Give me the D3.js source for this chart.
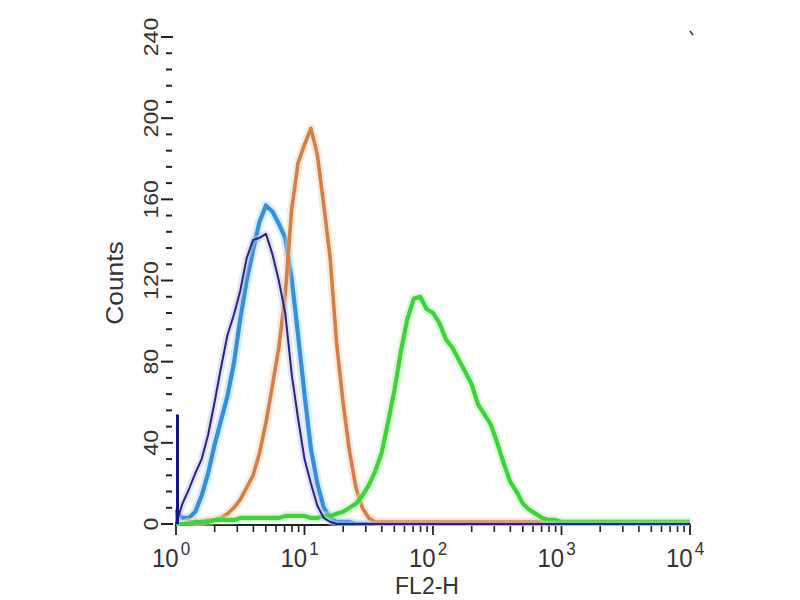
<!DOCTYPE html>
<html>
<head>
<meta charset="utf-8">
<script src="https://cdn.jsdelivr.net/npm/d3@7/dist/d3.min.js"></script>
<style>
  body { margin: 0; background: #fff; }
  text { font-family: "Liberation Sans", Arial, sans-serif; fill: #333; }
</style>
</head>
<body>
<script>
// log10(FL2-H) step between histogram bins, first bin at 10^0
const binStep = 0.05;

const yTicks = [0, 40, 80, 120, 160, 200, 240];
const xDecades = [0, 1, 2, 3, 4];

// counts per bin (81 bins from 10^0 to 10^4)
const navyCounts = [54, 10, 17, 25, 32, 44, 60, 77, 93, 103, 115, 131, 140, 141, 143, 133, 120, 104, 74, 52,
  32, 20, 9, 3, 1, 0, 0, 0, 0, 0, 0, 0, 0, 0, 0, 0, 0, 0, 0, 0,
  0, 0, 0, 0, 0, 0, 0, 0, 0, 0, 0, 0, 0, 0, 0, 0, 0, 0, 0, 0,
  0, 0, 0, 0, 0, 0, 0, 0, 0, 0, 0, 0, 0, 0, 0, 0, 0, 0, 0, 0, 0];
const blueCounts = [6, 3, 3, 6, 14, 25, 39, 51, 63, 79, 101, 120, 135, 149, 157, 154, 148, 141, 121, 93,
  64, 37, 20, 8, 3, 1, 1, 1, 0, 0, 0, 0, 0, 0, 0, 0, 0, 0, 0, 0,
  0, 0, 0, 0, 0, 0, 0, 0, 0, 0, 0, 0, 0, 0, 0, 0, 0, 0, 0, 0,
  0, 0, 0, 0, 0, 0, 0, 0, 0, 0, 0, 0, 0, 0, 0, 0, 0, 0, 0, 0, 0];
const orangeCounts = [0, 0, 1, 1, 1, 2, 2, 3, 5, 8, 12, 18, 24, 35, 50, 68, 87, 113, 155, 178,
  187, 195, 182, 157, 131, 89, 60, 36, 18, 8, 3, 1, 1, 1, 1, 1, 1, 1, 1, 1,
  1, 1, 1, 1, 1, 1, 1, 1, 1, 1, 1, 1, 1, 1, 1, 1, 1, 1, 0, 0,
  0, 0, 0, 0, 0, 0, 0, 0, 0, 0, 0, 0, 0, 0, 0, 0, 0, 0, 0, 0, 0];
const greenCounts = [0, 0, 0, 1, 1, 1, 2, 2, 2, 2, 3, 3, 3, 3, 3, 3, 3, 4, 4, 4,
  4, 3, 3, 4, 4, 5, 6, 8, 10, 14, 19, 26, 35, 50, 66, 85, 101, 111, 112, 106,
  104, 99, 91, 87, 81, 75, 69, 59, 54, 49, 40, 30, 21, 16, 10, 7, 5, 3, 2, 2,
  1, 1, 1, 1, 1, 1, 1, 1, 1, 1, 1, 1, 1, 1, 1, 1, 1, 1, 1, 1, 1];

const series = [
  { name: 'blue', counts: blueCounts, color: '#3a8ed6', glow: '#9fd6f5', width: 4.2 },
  { name: 'orange', counts: orangeCounts, color: '#d2804a', glow: '#f6cfae', width: 3.6 },
  { name: 'green', counts: greenCounts, color: '#3fd23f', glow: '#b3f2a8', width: 4.2 },
  { name: 'navy', counts: navyCounts, color: '#262680', glow: '#c0c0e6', width: 2, spike: true }
];

const svg = d3.select('body').append('svg')
  .attr('width', 800)
  .attr('height', 600);

const x = d3.scaleLog().domain([1, 10000]).range([176, 690]);
const y = d3.scaleLinear().domain([0, 240]).range([524, 37]);

svg.append('clipPath').attr('id', 'plot')
  .append('rect')
  .attr('x', 175).attr('y', 0)
  .attr('width', 520).attr('height', 526);

// x axis
const xMinor = [];
xDecades.slice(0, -1).forEach(d => {
  for (let k = 2; k < 10; k++) xMinor.push(k * Math.pow(10, d));
});
const xAxisG = svg.append('g');
xAxisG.append('line')
  .attr('x1', 175).attr('x2', 691)
  .attr('y1', 525).attr('y2', 525)
  .attr('stroke', '#222').attr('stroke-width', 2);
xAxisG.selectAll('.minor').data(xMinor).join('line')
  .attr('x1', d => x(d)).attr('x2', d => x(d))
  .attr('y1', 525).attr('y2', 532)
  .attr('stroke', '#222').attr('stroke-width', 1.6);
xAxisG.selectAll('.major').data(xDecades).join('line')
  .attr('x1', d => x(Math.pow(10, d))).attr('x2', d => x(Math.pow(10, d)))
  .attr('y1', 525).attr('y2', 535)
  .attr('stroke', '#222').attr('stroke-width', 1.8);
const xl = xAxisG.selectAll('.lab').data(xDecades).join('text')
  .attr('transform', d => `translate(${x(Math.pow(10, d)) - 24},567) scale(1,1.1)`)
  .style('font-size', '24px');
xl.append('tspan').text('10');
xl.append('tspan').attr('dx', 2).attr('dy', -11).style('font-size', '17px').text(d => d);

svg.append('text')
  .attr('x', 427).attr('y', 594)
  .attr('text-anchor', 'middle')
  .style('font-size', '23px')
  .text('FL2-H');

// y axis (ticks only)
const yMinor = d3.range(0, 241, 8).filter(v => v % 40 !== 0);
svg.selectAll('.yminor').data(yMinor).join('line')
  .attr('x1', 166).attr('x2', 172)
  .attr('y1', d => y(d)).attr('y2', d => y(d))
  .attr('stroke', '#222').attr('stroke-width', 2);
svg.selectAll('.ymajor').data(yTicks).join('line')
  .attr('x1', 161).attr('x2', 173)
  .attr('y1', d => y(d)).attr('y2', d => y(d))
  .attr('stroke', '#222').attr('stroke-width', 2);
svg.selectAll('.ylab').data(yTicks).join('text')
  .attr('transform', d => `translate(158,${y(d)}) rotate(-90) scale(1.1,1)`)
  .attr('text-anchor', 'middle')
  .style('font-size', '21px')
  .text(d => d);
svg.append('text')
  .attr('transform', 'translate(123,283) rotate(-90) scale(1.1,1)')
  .attr('text-anchor', 'middle')
  .style('font-size', '24px')
  .text('Counts');

// little mark at the top right corner
svg.append('line')
  .attr('x1', 690).attr('y1', 31).attr('x2', 693).attr('y2', 35)
  .attr('stroke', '#333').attr('stroke-width', 1.5);

// histograms
const line = d3.line()
  .x(d => d[0])
  .y(d => d[1]);

const plot = svg.append('g').attr('clip-path', 'url(#plot)');
series.forEach(s => {
  let pts = s.counts.map((c, i) => [x(Math.pow(10, i * binStep)), y(c)]);
  if (s.spike) pts = pts.slice(1);
  pts = [[x(1), y(0)]].concat(pts);
  plot.append('path')
    .attr('d', line(pts))
    .attr('fill', 'none')
    .attr('stroke', s.glow)
    .attr('stroke-width', s.width + 5)
    .attr('stroke-opacity', 0.45)
    .attr('stroke-linejoin', 'round');
  plot.append('path')
    .attr('d', line(pts))
    .attr('fill', 'none')
    .attr('stroke', s.color)
    .attr('stroke-width', s.width)
    .attr('stroke-linejoin', 'round');
  if (s.spike) {
    // first bin: narrow spike on the left edge
    plot.append('line')
      .attr('x1', x(1) + 1.5).attr('x2', x(1) + 1.5)
      .attr('y1', y(0)).attr('y2', y(s.counts[0]))
      .attr('stroke', '#14148c')
      .attr('stroke-width', 3);
  }
});
</script>
</body>
</html>
